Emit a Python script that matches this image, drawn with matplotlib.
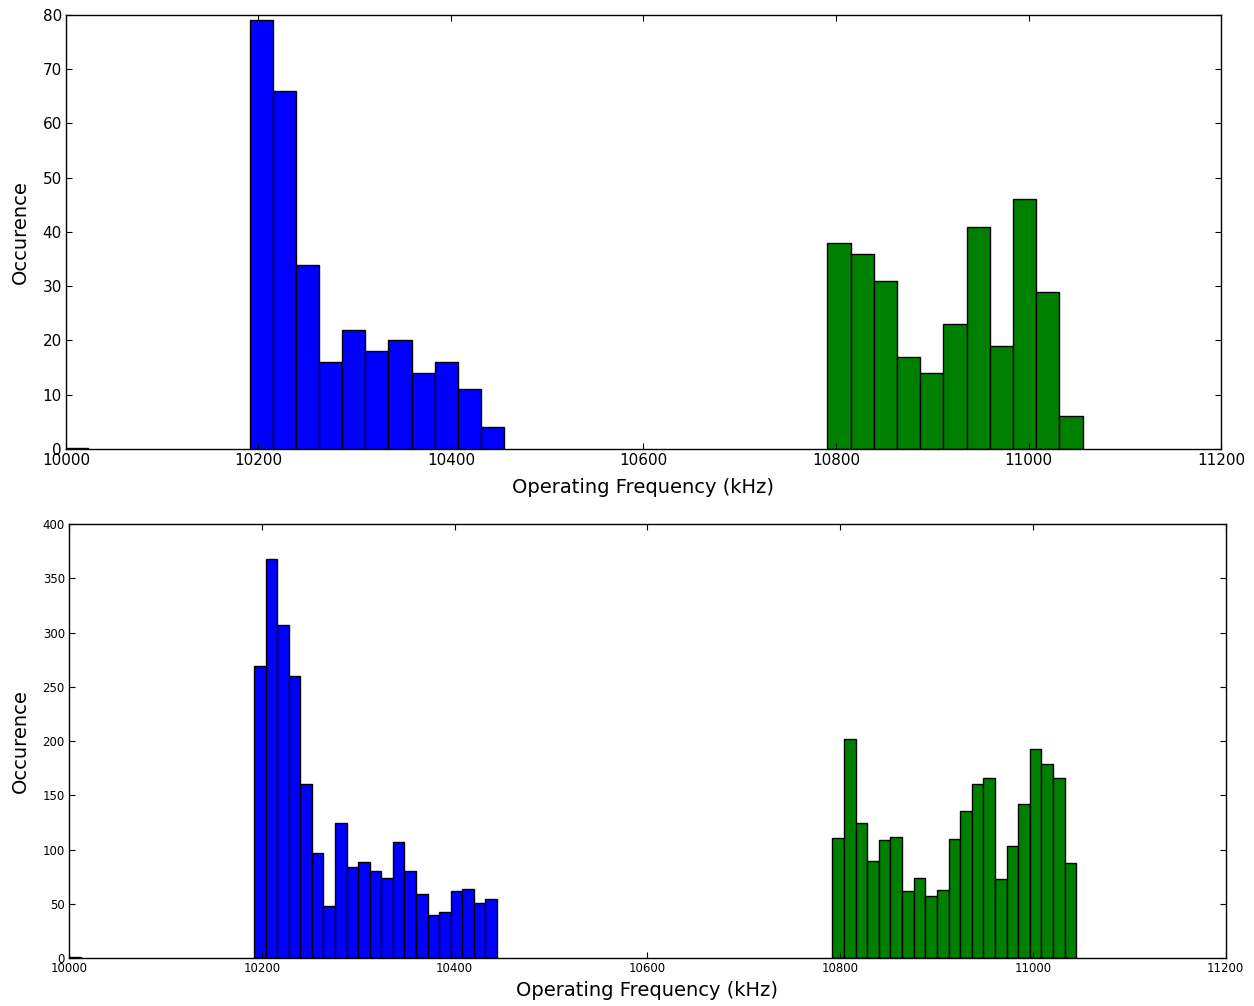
import matplotlib
matplotlib.use("Agg")
import matplotlib.pyplot as plt
import numpy as np

# counts per bin, coarse binning (upper panel)
coarse_lo_start, coarse_lo_width = 10191, 24.0
coarse_lo = [79, 66, 34, 16, 22, 18, 20, 14, 16, 11, 4]
coarse_hi_start, coarse_hi_width = 10791, 24.1
coarse_hi = [38, 36, 31, 17, 14, 23, 41, 19, 46, 29, 6]
coarse_stray = 0.25

# counts per bin, fine binning (lower panel)
fine_lo_start, fine_lo_width = 10192, 12.0
fine_lo = [269, 368, 307, 260, 161, 97, 48, 125, 84, 89, 80,
           74, 107, 80, 59, 40, 43, 62, 64, 51, 55]
fine_hi_start, fine_hi_width = 10792, 12.05
fine_hi = [111, 202, 125, 90, 109, 112, 62, 74, 57, 63, 110,
           136, 161, 166, 73, 103, 142, 193, 179, 166, 88]
fine_stray = 1.0

xticks = [10000, 10200, 10400, 10600, 10800, 11000, 11200]


def draw_bins(ax, start, width, counts, color):
    counts = np.array(counts, dtype=float)
    edges = start + width * np.arange(len(counts) + 1)
    ax.bar(edges[:-1], counts, width=np.diff(edges), align='edge',
           color=color, edgecolor='black', linewidth=1.0)


def style_axes(ax, ymax, ystep, tick_size, xpad):
    ax.set_xlim(10000, 11200)
    ax.set_ylim(0, ymax)
    ax.set_xticks(xticks)
    ax.set_yticks(np.arange(0, ymax + 1, ystep))
    ax.tick_params(direction='in', top=True, right=True, length=4,
                   labelsize=tick_size, pad=3)
    for sp in ax.spines.values():
        sp.set_linewidth(1.0)
    ax.set_xlabel('Operating Frequency (kHz)', fontsize=14, labelpad=xpad)
    ax.set_ylabel('Occurence', fontsize=14, labelpad=9)


fig = plt.figure(figsize=(12.54, 10.06), dpi=100)
ax1 = fig.add_axes([0.0526, 0.5537, 0.9211, 0.4314])
ax2 = fig.add_axes([0.0550, 0.0474, 0.9224, 0.4317])

draw_bins(ax1, 10000, 23, [coarse_stray], 'blue')
draw_bins(ax1, coarse_lo_start, coarse_lo_width, coarse_lo, 'blue')
draw_bins(ax1, coarse_hi_start, coarse_hi_width, coarse_hi, 'green')
style_axes(ax1, 80, 10, 11, 7)

draw_bins(ax2, 10000, 12, [fine_stray], 'blue')
draw_bins(ax2, fine_lo_start, fine_lo_width, fine_lo, 'blue')
draw_bins(ax2, fine_hi_start, fine_hi_width, fine_hi, 'green')
style_axes(ax2, 400, 50, 8.5, 4)

fig.savefig('out.png', dpi=100)
